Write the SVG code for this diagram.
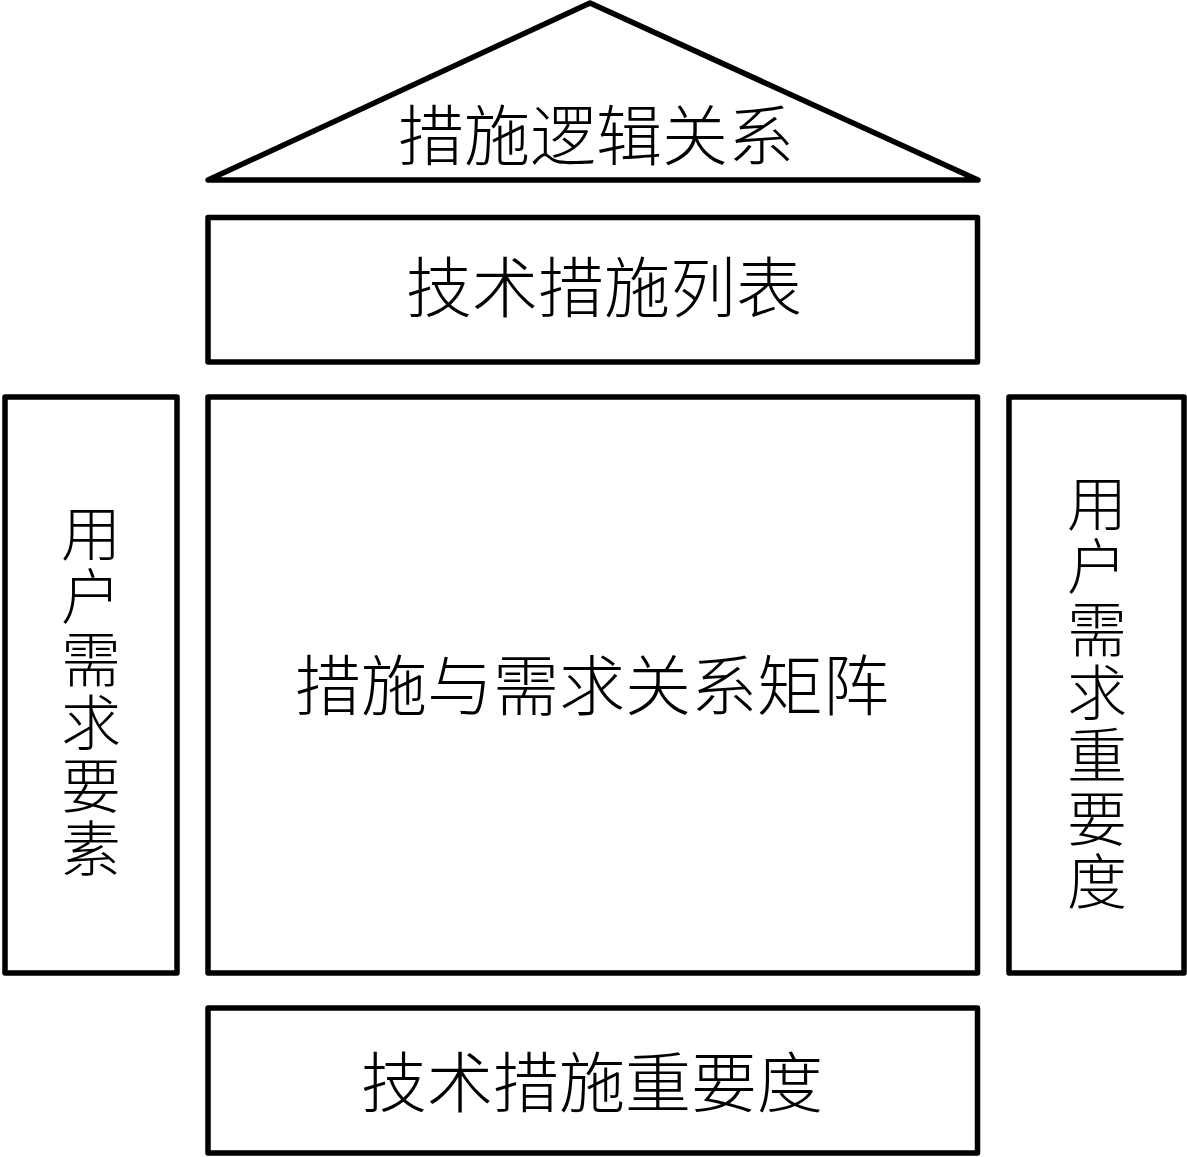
<svg xmlns="http://www.w3.org/2000/svg" width="1187" height="1157" viewBox="0 0 1187 1157">
<style>
.shape{fill:#fff;stroke:#000;stroke-width:5.5;stroke-linejoin:round}
.lbl{font-family:"Liberation Serif","Noto Sans CJK SC",serif;font-size:66px;fill:#000;text-anchor:middle;font-weight:300}
.vlbl{font-family:"Liberation Serif","Noto Sans CJK SC",serif;font-size:60px;fill:#000;text-anchor:middle;font-weight:300}
</style>
<rect width="1187" height="1157" fill="#fff"/>
<g id="roof">
<polygon class="shape" points="590,3 978,180 208,180"/>
<text class="lbl" x="596" y="160">措施逻辑关系</text>
</g>
<g id="tech-list">
<rect class="shape" x="208" y="217.5" width="769.5" height="144.5"/>
<text class="lbl" x="604" y="312">技术措施列表</text>
</g>
<g id="matrix">
<rect class="shape" x="208" y="397" width="769.5" height="576"/>
<text class="lbl" x="592" y="710">措施与需求关系矩阵</text>
</g>
<g id="user-needs">
<rect class="shape" x="5" y="397" width="172" height="576"/>
<text class="vlbl"><tspan x="91" y="556">用</tspan><tspan x="91" dy="63">户</tspan><tspan x="91" dy="63">需</tspan><tspan x="91" dy="63">求</tspan><tspan x="91" dy="63">要</tspan><tspan x="91" dy="63">素</tspan></text>
</g>
<g id="need-importance">
<rect class="shape" x="1009" y="397" width="175" height="576"/>
<text class="vlbl"><tspan x="1097" y="526">用</tspan><tspan x="1097" dy="63">户</tspan><tspan x="1097" dy="63">需</tspan><tspan x="1097" dy="63">求</tspan><tspan x="1097" dy="63">重</tspan><tspan x="1097" dy="63">要</tspan><tspan x="1097" dy="63">度</tspan></text>
</g>
<g id="tech-importance">
<rect class="shape" x="208" y="1008" width="769.5" height="145"/>
<text class="lbl" x="592" y="1107">技术措施重要度</text>
</g>
<g id="connectors"></g>
</svg>
